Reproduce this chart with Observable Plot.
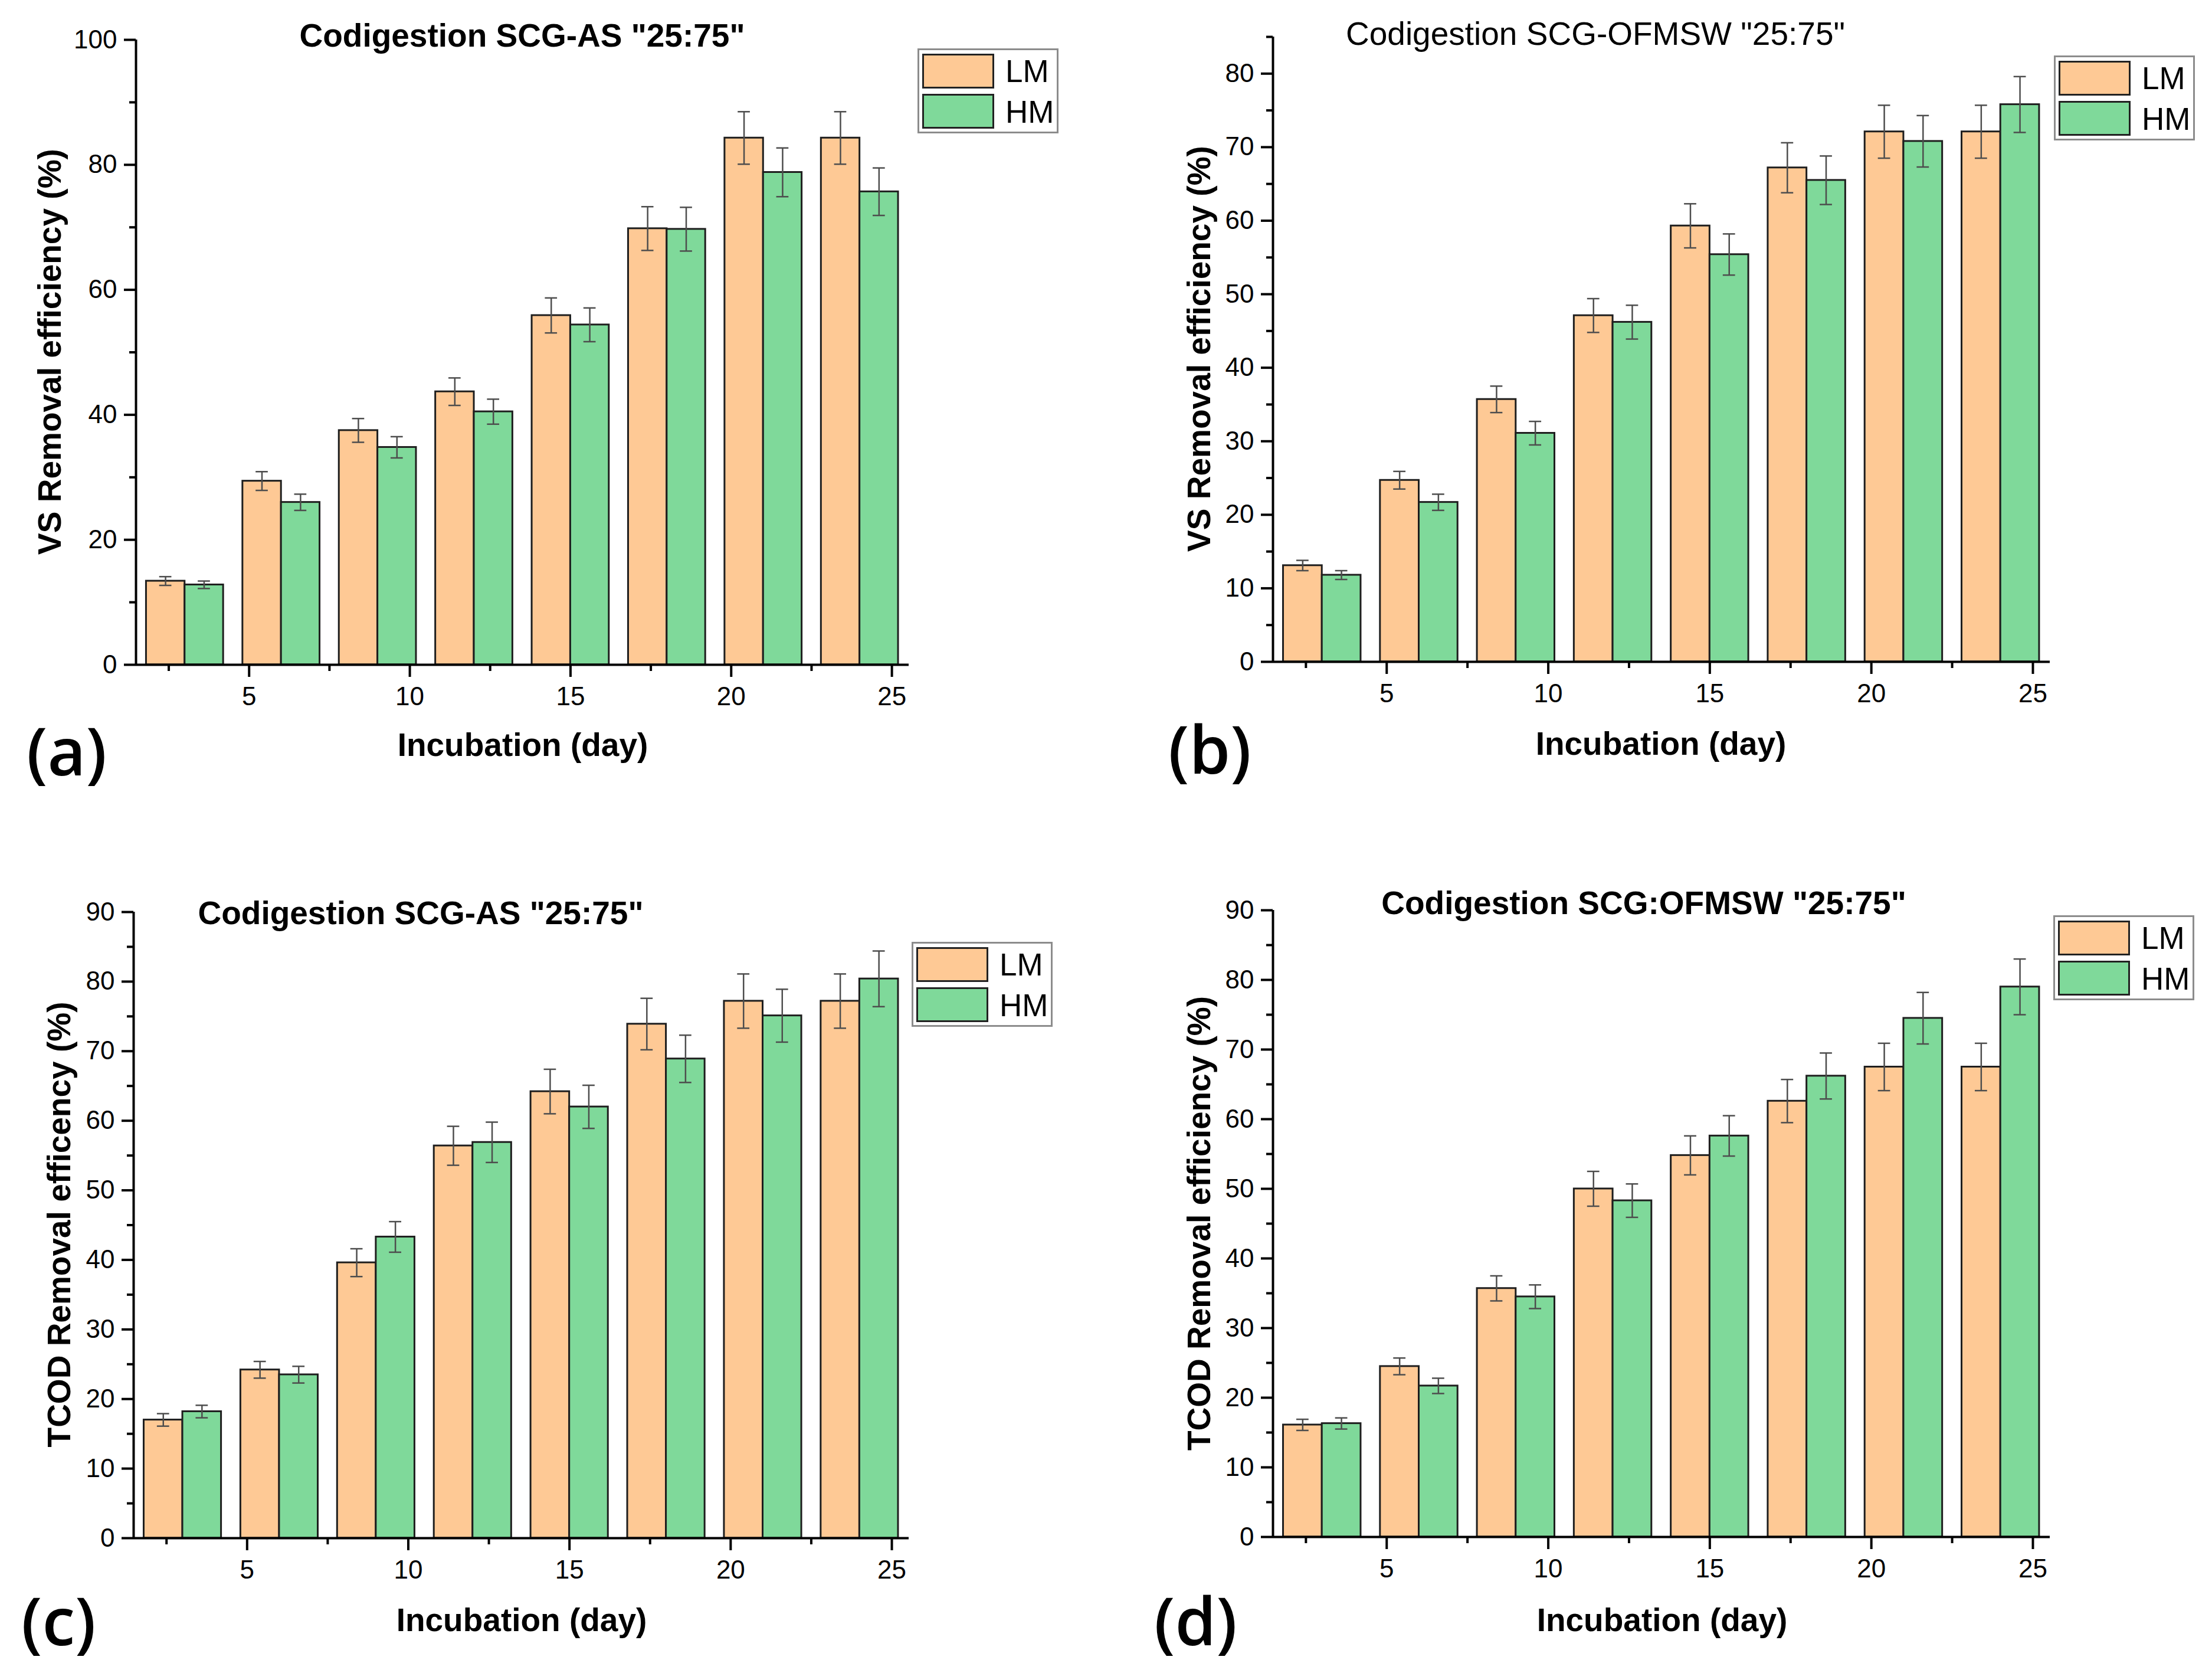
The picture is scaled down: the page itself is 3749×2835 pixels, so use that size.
<!DOCTYPE html>
<html>
<head>
<meta charset="utf-8">
<script src="https://cdn.jsdelivr.net/npm/d3@7"></script>
<script src="https://cdn.jsdelivr.net/npm/@observablehq/plot@0.6"></script>
<style>
  html, body { margin: 0; padding: 0; background: #fff; }
  #page { position: relative; width: 3749px; height: 2835px; overflow: hidden; background: #fff;
          font-family: "Liberation Sans", Arial, Helvetica, sans-serif; color: #000; }
  .abs { position: absolute; white-space: nowrap; line-height: 1; }
  .ctr { transform: translate(-50%, -50%); }
  .rot { transform: translate(-50%, -50%) rotate(-90deg); }
  .legend { position: absolute; box-sizing: border-box; border: 3px solid #8c8c8c; background: #fff; }
  .sw { position: absolute; box-sizing: border-box; border: 3px solid #222; width: 122px; height: 59px; left: 5px; }
  .lt { position: absolute; left: 146px; font-size: 53px; line-height: 1; transform: translateY(-50%); }
  .letter { font-family: "Open Sans", "Noto Sans", sans-serif; font-weight: 600; font-size: 112px; }
  .plot { position: absolute; }
</style>
</head>
<body>
<div id="page"></div>
<script>
// ---------- data ----------
const days = [3, 6, 9, 12, 15, 18, 21, 24];
const seriesNames = ["LM", "HM"];
const seriesColors = ["#FEC995", "#7FD99A"];
const xMajorTicks = [5, 10, 15, 20, 25];
const xMinorTicks = [2.5, 7.5, 12.5, 17.5, 22.5];

// (a) VS removal, SCG-AS
const vsAsLM    = [13.4, 29.4, 37.5, 43.7, 55.9, 69.8, 84.3, 84.3];
const vsAsLMErr = [0.7, 1.5, 1.9, 2.2, 2.8, 3.5, 4.2, 4.2];
const vsAsHM    = [12.8, 26.0, 34.8, 40.5, 54.4, 69.7, 78.8, 75.7];
const vsAsHMErr = [0.6, 1.3, 1.7, 2.0, 2.7, 3.5, 3.9, 3.8];
// (b) VS removal, SCG-OFMSW
const vsOfLM    = [13.1, 24.7, 35.7, 47.1, 59.3, 67.2, 72.1, 72.1];
const vsOfLMErr = [0.7, 1.2, 1.8, 2.3, 3.0, 3.4, 3.6, 3.6];
const vsOfHM    = [11.8, 21.7, 31.1, 46.2, 55.4, 65.5, 70.8, 75.8];
const vsOfHMErr = [0.6, 1.1, 1.6, 2.3, 2.8, 3.3, 3.5, 3.8];
// (c) TCOD removal, SCG-AS
const codAsLM    = [17.0, 24.2, 39.6, 56.4, 64.2, 73.9, 77.2, 77.2];
const codAsLMErr = [0.9, 1.2, 2.0, 2.8, 3.2, 3.7, 3.9, 3.9];
const codAsHM    = [18.2, 23.5, 43.3, 56.9, 62.0, 68.9, 75.1, 80.4];
const codAsHMErr = [0.9, 1.2, 2.2, 2.9, 3.1, 3.4, 3.8, 4.0];
// (d) TCOD removal, SCG:OFMSW
const codOfLM    = [16.1, 24.5, 35.7, 50.0, 54.8, 62.6, 67.5, 67.5];
const codOfLMErr = [0.8, 1.2, 1.8, 2.5, 2.8, 3.1, 3.4, 3.4];
const codOfHM    = [16.3, 21.7, 34.5, 48.3, 57.6, 66.2, 74.5, 79.0];
const codOfHMErr = [0.8, 1.1, 1.7, 2.4, 2.9, 3.3, 3.7, 4.0];

const titles = ['Codigestion SCG-AS "25:75"', 'Codigestion SCG-OFMSW "25:75"', 'Codigestion SCG-AS "25:75"', 'Codigestion SCG:OFMSW "25:75"'];
const yLabels = ["VS Removal efficiency (%)", "VS Removal efficiency (%)", "TCOD Removal efficency (%)", "TCOD Removal efficiency (%)"];
const xLabel = "Incubation (day)";
const letters = ["(a)", "(b)", "(c)", "(d)"];

// ---------- layout (pixels) ----------
const xDomain = [1.48, 25.53];
const barW = 1.2, capW = 0.19;
const panels = [
  {lm: vsAsLM, lmE: vsAsLMErr, hm: vsAsHM, hmE: vsAsHMErr, yMax: 100, yMajor: [0,20,40,60,80,100], yMinor: [10,30,50,70,90],
   ox: 0, oy: 0, axisX: 230, rightX: 1540, topY: 67, zeroY: 1126,
   title: {x: 885, y: 60, bold: true}, ylab: {x: 84, y: 596}, xlab: {x: 886, y: 1262}, letter: {x: 45, y: 1271},
   legend: {x: 1555, y: 82}},
  {lm: vsOfLM, lmE: vsOfLMErr, hm: vsOfHM, hmE: vsOfHMErr, yMax: 85, yMajor: [0,10,20,30,40,50,60,70,80], yMinor: [5,15,25,35,45,55,65,75,85],
   ox: 1875, oy: 0, axisX: 2157, rightX: 3474, topY: 62, zeroY: 1121,
   title: {x: 2704, y: 57, bold: false}, ylab: {x: 2032, y: 591}, xlab: {x: 2815, y: 1260}, letter: {x: 1980, y: 1268},
   legend: {x: 3481, y: 94}},
  {lm: codAsLM, lmE: codAsLMErr, hm: codAsHM, hmE: codAsHMErr, yMax: 90, yMajor: [0,10,20,30,40,50,60,70,80,90], yMinor: [5,15,25,35,45,55,65,75,85],
   ox: 0, oy: 1417, axisX: 226, rightX: 1540, topY: 1545, zeroY: 2606,
   title: {x: 713, y: 1547, bold: true}, ylab: {x: 100, y: 2075}, xlab: {x: 884, y: 2745}, letter: {x: 36, y: 2745},
   legend: {x: 1545, y: 1596}},
  {lm: codOfLM, lmE: codOfLMErr, hm: codOfHM, hmE: codOfHMErr, yMax: 90, yMajor: [0,10,20,30,40,50,60,70,80,90], yMinor: [5,15,25,35,45,55,65,75,85],
   ox: 1875, oy: 1417, axisX: 2157, rightX: 3474, topY: 1542, zeroY: 2604,
   title: {x: 2786, y: 1530, bold: true}, ylab: {x: 2032, y: 2073}, xlab: {x: 2817, y: 2745}, letter: {x: 1956, y: 2745},
   legend: {x: 3480, y: 1551}}
];
const PW = 1874, PH = 1417;

const page = document.getElementById("page");
function addText(txt, x, y, cls, style) {
  const d = document.createElement("div");
  d.className = "abs " + cls;
  d.textContent = txt;
  d.style.left = x + "px"; d.style.top = y + "px";
  Object.assign(d.style, style || {});
  page.appendChild(d);
  return d;
}

panels.forEach((p, k) => {
  const rows = [];
  days.forEach((d, i) => {
    rows.push({day: d, s: 0, v: p.lm[i], e: p.lmE[i]});
    rows.push({day: d, s: 1, v: p.hm[i], e: p.hmE[i]});
  });
  const cx = r => r.s === 0 ? r.day - barW / 2 : r.day + barW / 2;
  const lw = 4;
  const chart = Plot.plot({
    width: PW, height: PH,
    marginLeft: p.axisX - p.ox,
    marginRight: PW - (p.rightX - p.ox),
    marginTop: p.topY - p.oy,
    marginBottom: PH - (p.zeroY - p.oy),
    style: {background: "transparent", fontFamily: '"Liberation Sans", Arial, sans-serif', color: "#000"},
    x: {domain: xDomain},
    y: {domain: [0, p.yMax]},
    marks: [
      Plot.rectY(rows, {
        x1: r => r.s === 0 ? r.day - barW : r.day,
        x2: r => r.s === 0 ? r.day : r.day + barW,
        y1: 0, y2: "v",
        fill: r => seriesColors[r.s], stroke: "#1e1e1e", strokeWidth: 3
      }),
      Plot.ruleX(rows, {x: cx, y1: r => r.v - r.e, y2: r => r.v + r.e, stroke: "#4d4d4d", strokeWidth: 2.5}),
      Plot.ruleY(rows, {y: r => r.v + r.e, x1: r => cx(r) - capW, x2: r => cx(r) + capW, stroke: "#4d4d4d", strokeWidth: 2.5}),
      Plot.ruleY(rows, {y: r => r.v - r.e, x1: r => cx(r) - capW, x2: r => cx(r) + capW, stroke: "#4d4d4d", strokeWidth: 2.5}),
      Plot.axisY(p.yMajor, {label: null, tickSize: 20, tickPadding: 12, fontSize: 44, strokeWidth: lw, tickFormat: d => String(d)}),
      Plot.axisY(p.yMinor, {label: null, tickSize: 11, tickFormat: () => "", strokeWidth: lw}),
      Plot.axisX(xMajorTicks, {label: null, tickSize: 21, tickPadding: 16, fontSize: 44, strokeWidth: lw, tickFormat: d => String(d)}),
      Plot.axisX(xMinorTicks, {label: null, tickSize: 11, tickFormat: () => "", strokeWidth: lw}),
      Plot.ruleX([xDomain[0]], {y1: 0, y2: p.yMax, stroke: "#000", strokeWidth: lw}),
      Plot.ruleY([0], {x1: xDomain[0], x2: xDomain[1], stroke: "#000", strokeWidth: lw})
    ]
  });
  chart.classList.add("plot");
  chart.style.left = p.ox + "px";
  chart.style.top = p.oy + "px";
  page.appendChild(chart);

  addText(titles[k], p.title.x, p.title.y, "ctr", {fontSize: "55px", fontWeight: p.title.bold ? "bold" : "normal"});
  addText(yLabels[k], p.ylab.x, p.ylab.y, "rot", {fontSize: "55px", fontWeight: "bold"});
  addText(xLabel, p.xlab.x, p.xlab.y, "ctr", {fontSize: "55px", fontWeight: "bold"});
  const L = addText(letters[k], p.letter.x, p.letter.y, "letter", {transform: "translateY(-50%)"});

  const lg = document.createElement("div");
  lg.className = "legend";
  Object.assign(lg.style, {left: p.legend.x + "px", top: p.legend.y + "px", width: "239px", height: "144px"});
  seriesNames.forEach((n, j) => {
    const sw = document.createElement("div");
    sw.className = "sw";
    sw.style.top = (6 + j * 68) + "px";
    sw.style.background = seriesColors[j];
    lg.appendChild(sw);
    const t = document.createElement("div");
    t.className = "lt";
    t.textContent = n;
    t.style.top = (35 + j * 69) + "px";
    lg.appendChild(t);
  });
  page.appendChild(lg);
});
</script>
</body>
</html>
